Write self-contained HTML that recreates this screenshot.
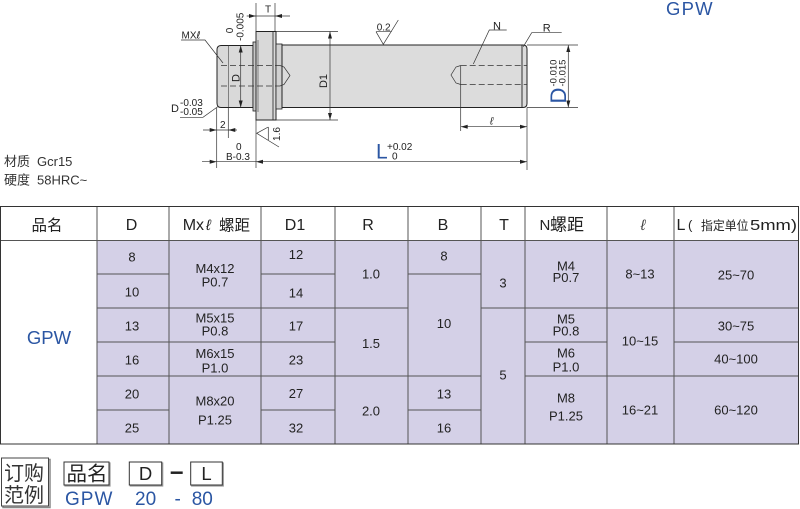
<!DOCTYPE html>
<html><head><meta charset="utf-8">
<style>
html,body{margin:0;padding:0;background:#fff;}
svg{display:block;}
text{font-family:"Liberation Sans","Noto Sans CJK SC",sans-serif;}
.d{stroke:#333;stroke-width:0.7;fill:none;}
.o{stroke:#222;stroke-width:1;}
.t{fill:#222;}
.b{fill:#2b56a3;}
.g{stroke:#555;stroke-width:1;fill:none;}
</style></head><body>
<svg width="800" height="509" viewBox="0 0 800 509" xmlns="http://www.w3.org/2000/svg">
<!-- title -->
<text x="666" y="15" font-size="18.5" class="b" letter-spacing="1.2">GPW</text>

<!-- ============ DRAWING ============ -->
<!-- pilot -->
<path d="M221,45.5 L253,45.5 L253,107.5 L221,107.5 Q217,107.5 217,103 L217,50 Q217,45.5 221,45.5 Z" fill="#d9d9d9" class="o"/>
<line x1="228.3" y1="45.5" x2="228.3" y2="107.5" stroke="#444" stroke-width="0.6"/>
<!-- undercut -->
<rect x="253" y="42" width="3" height="69" fill="#c8c8c8" stroke="#222" stroke-width="0.8"/>
<!-- flange -->
<rect x="256" y="31.5" width="20" height="88.5" fill="#d9d9d9" class="o"/>
<line x1="273" y1="31.5" x2="273" y2="120" stroke="#222" stroke-width="0.8"/>
<line x1="258" y1="40" x2="258" y2="112" stroke="#444" stroke-width="0.6"/>
<!-- relief -->
<rect x="276" y="44" width="6" height="65" fill="#d0d0d0" stroke="#222" stroke-width="0.8"/>
<!-- main body -->
<path d="M282,45 L523,45 Q527,45 527,49 L527,103.5 Q527,107.5 523,107.5 L282,107.5 Z" fill="#dcdcdc" class="o"/>
<line x1="522" y1="45" x2="522" y2="107.5" stroke="#222" stroke-width="0.9"/>

<!-- hidden thread left -->
<line x1="221" y1="65.5" x2="280" y2="65.5" stroke="#333" stroke-width="0.8" stroke-dasharray="6,3"/>
<line x1="221" y1="86" x2="280" y2="86" stroke="#333" stroke-width="0.8" stroke-dasharray="6,3"/>
<path d="M280,65.5 L284,67 L290,75.5 L284,84.5 L280,86" class="d"/>
<!-- hidden thread right -->
<line x1="460.7" y1="65.5" x2="527" y2="65.5" stroke="#333" stroke-width="0.8" stroke-dasharray="6,3"/>
<line x1="460.7" y1="84.5" x2="527" y2="84.5" stroke="#333" stroke-width="0.8" stroke-dasharray="6,3"/>
<path d="M460.7,65.5 L456,67 L451,75 L456,83 L460.7,84.5" class="d"/>
<line x1="460.7" y1="65.5" x2="460.7" y2="131" class="d"/>

<!-- T dimension -->
<line x1="256" y1="3" x2="256" y2="168" class="d"/>
<line x1="275" y1="3" x2="275" y2="31.5" class="d"/>
<line x1="246.7" y1="16" x2="290" y2="16" class="d"/>
<polygon points="256,16 249,14 249,18" fill="#222"/>
<polygon points="275,16 282,14 282,18" fill="#222"/>
<text x="265" y="12.5" font-size="10" class="t">T</text>

<!-- pilot tolerance -->
<text transform="translate(233,30.5) rotate(-90)" text-anchor="middle" font-size="10" class="t">0</text>
<text transform="translate(243.5,41) rotate(-90)" font-size="10" class="t">-0.005</text>
<!-- pilot D dim -->
<line x1="240.7" y1="45.5" x2="240.7" y2="107.5" class="d"/>
<polygon points="240.7,45.5 238.7,52.5 242.7,52.5" fill="#222"/>
<polygon points="240.7,107.5 238.7,100.5 242.7,100.5" fill="#222"/>
<text transform="translate(239.5,78) rotate(-90)" text-anchor="middle" font-size="11" class="t">D</text>

<!-- D1 dim -->
<line x1="276" y1="31.5" x2="338" y2="31.5" class="d"/>
<line x1="276" y1="120" x2="338" y2="120" class="d"/>
<line x1="330" y1="31.5" x2="330" y2="120" class="d"/>
<polygon points="330,31.5 328,38.5 332,38.5" fill="#222"/>
<polygon points="330,120 328,113 332,113" fill="#222"/>
<text transform="translate(327,81) rotate(-90)" text-anchor="middle" font-size="11" class="t">D1</text>

<!-- MXl leader -->
<text x="181.5" y="38.5" font-size="10" class="t">MX<tspan font-family="DejaVu Sans" font-style="italic">ℓ</tspan></text>
<path d="M181,40 L205,40 L223,63" class="d"/>
<!-- D -0.03 leader -->
<text x="171" y="112" font-size="11" class="t">D</text>
<text x="180" y="106" font-size="10" class="t">-0.03</text>
<text x="180" y="115" font-size="10" class="t">-0.05</text>
<path d="M180,117.3 L203,117.3 L218,106.5" class="d"/>

<!-- 2 dim -->
<line x1="216.7" y1="108" x2="216.7" y2="168" class="d"/>
<line x1="228.3" y1="108" x2="228.3" y2="138" class="d"/>
<line x1="203" y1="130" x2="237" y2="130" class="d"/>
<polygon points="216.7,130 209.7,128 209.7,132" fill="#222"/>
<polygon points="228.3,130 235.3,128 235.3,132" fill="#222"/>
<text x="220" y="128" font-size="10" class="t">2</text>

<!-- 1.6 symbol -->
<path d="M268.3,127 L256.7,133.3 L279,147 M268.3,127 L268.3,140" class="d"/>
<text transform="translate(280,134) rotate(-90)" text-anchor="middle" font-size="10" class="t">1.6</text>

<!-- B / L dims -->
<line x1="202" y1="161.7" x2="527" y2="161.7" class="d"/>
<polygon points="216.7,161.7 209.7,159.7 209.7,163.7" fill="#222"/>
<polygon points="256,161.7 263,159.7 263,163.7" fill="#222"/>
<polygon points="527,161.7 520,159.7 520,163.7" fill="#222"/>
<text x="236" y="150" font-size="10" class="t">0</text>
<text x="226" y="160" font-size="10" class="t">B-0.3</text>
<text x="376" y="158.5" font-size="21" class="b">L</text>
<text x="387" y="150" font-size="10" class="t">+0.02</text>
<text x="392" y="159.5" font-size="10" class="t">0</text>
<line x1="527" y1="107.5" x2="527" y2="170" class="d"/>

<!-- 0.2 symbol -->
<text x="376.7" y="30.5" font-size="10" class="t">0.2</text>
<path d="M376,31.7 L391.7,31.7 M376,31.7 L383.3,44.3 L398.3,20" class="d"/>

<!-- N leader -->
<path d="M473.3,64 L489.3,30 L506.7,30" class="d"/>
<text x="493" y="29.5" font-size="11" class="t">N</text>
<!-- R leader -->
<path d="M523.3,46.7 L531.7,32.7 L561.7,32.7" class="d"/>
<text x="542.7" y="31.5" font-size="11" class="t">R</text>

<!-- l dim -->
<line x1="460.7" y1="126.7" x2="527" y2="126.7" class="d"/>
<polygon points="460.7,126.7 467.7,124.7 467.7,128.7" fill="#222"/>
<polygon points="527,126.7 520,124.7 520,128.7" fill="#222"/>
<text x="491.7" y="124.5" text-anchor="middle" font-size="11" font-style="italic" font-family="DejaVu Sans" fill="#333">ℓ</text>

<!-- right D dim -->
<line x1="527" y1="45" x2="578" y2="45" class="d"/>
<line x1="527" y1="107.5" x2="578" y2="107.5" class="d"/>
<line x1="568.3" y1="45" x2="568.3" y2="107.5" class="d"/>
<polygon points="568.3,45 566.3,52 570.3,52" fill="#222"/>
<polygon points="568.3,107.5 566.3,100.5 570.3,100.5" fill="#222"/>
<text transform="translate(566,103.5) rotate(-90)" font-size="22" class="b">D</text>
<text transform="translate(556.5,86.5) rotate(-90)" font-size="9.5" class="t">-0.010</text>
<text transform="translate(565.5,86.5) rotate(-90)" font-size="9.5" class="t">-0.015</text>

<!-- material -->
<text x="4" y="166" font-size="13" fill="#333">材质</text>
<text x="37" y="166" font-size="13" fill="#333">Gcr15</text>
<text x="4" y="184.5" font-size="13" fill="#333">硬度</text>
<text x="37" y="184.5" font-size="13" fill="#333">58HRC~</text>

<!-- ============ TABLE ============ -->
<rect x="97" y="240.5" width="702" height="203.5" fill="#d4d0e7"/>
<g class="g">
<line x1="0" y1="240.5" x2="799" y2="240.5"/>
<line x1="97" y1="274" x2="169" y2="274"/><line x1="97" y1="308" x2="169" y2="308"/><line x1="97" y1="342" x2="169" y2="342"/><line x1="97" y1="376" x2="169" y2="376"/><line x1="97" y1="410" x2="169" y2="410"/>
<line x1="169" y1="308" x2="261" y2="308"/><line x1="169" y1="342" x2="261" y2="342"/><line x1="169" y1="376" x2="261" y2="376"/>
<line x1="261" y1="274" x2="335" y2="274"/><line x1="261" y1="308" x2="335" y2="308"/><line x1="261" y1="342" x2="335" y2="342"/><line x1="261" y1="376" x2="335" y2="376"/><line x1="261" y1="410" x2="335" y2="410"/>
<line x1="335" y1="308" x2="408" y2="308"/><line x1="335" y1="376" x2="408" y2="376"/>
<line x1="408" y1="274" x2="481" y2="274"/><line x1="408" y1="376" x2="481" y2="376"/><line x1="408" y1="410" x2="481" y2="410"/>
<line x1="481" y1="308" x2="525" y2="308"/>
<line x1="525" y1="308" x2="607" y2="308"/><line x1="525" y1="342" x2="607" y2="342"/><line x1="525" y1="376" x2="607" y2="376"/>
<line x1="607" y1="308" x2="674" y2="308"/><line x1="607" y1="376" x2="674" y2="376"/>
<line x1="674" y1="308" x2="799" y2="308"/><line x1="674" y1="342" x2="799" y2="342"/><line x1="674" y1="376" x2="799" y2="376"/>
<line x1="97" y1="206" x2="97" y2="444"/><line x1="169" y1="206" x2="169" y2="444"/><line x1="261" y1="206" x2="261" y2="444"/><line x1="335" y1="206" x2="335" y2="444"/><line x1="408" y1="206" x2="408" y2="444"/><line x1="481" y1="206" x2="481" y2="444"/><line x1="525" y1="206" x2="525" y2="444"/><line x1="607" y1="206" x2="607" y2="444"/><line x1="674" y1="206" x2="674" y2="444"/>
</g>
<rect x="0.5" y="206.5" width="798" height="237.5" fill="none" stroke="#333" stroke-width="1"/>

<!-- header text -->
<g class="t" font-size="16">
<text x="47" y="230.5" text-anchor="middle" font-size="15.5">品名</text>
<text x="131.5" y="230" text-anchor="middle">D</text>
<text x="182.7" y="230">Mx</text>
<text x="206" y="230" font-family="DejaVu Sans" font-style="italic" font-size="15">ℓ</text>
<text x="219" y="230.5" font-size="15.5">螺距</text>
<text x="295" y="230" text-anchor="middle">D1</text>
<text x="368" y="230" text-anchor="middle">R</text>
<text x="443" y="230" text-anchor="middle">B</text>
<text x="504" y="230" text-anchor="middle">T</text>
<text x="539.5" y="230" font-size="15">N</text>
<text x="550" y="230.5" font-size="17">螺距</text>
<text x="643" y="230" text-anchor="middle" font-family="DejaVu Sans" font-style="italic" font-size="15" fill="#444">ℓ</text>
<text x="676.5" y="230">L</text>
<text x="688" y="229.5" font-size="13">(</text>
<text x="701" y="230" font-size="12.5" textLength="47.5" lengthAdjust="spacingAndGlyphs">指定单位</text>
<text x="750" y="230" font-size="15" textLength="47" lengthAdjust="spacingAndGlyphs">5mm)</text>
</g>

<text x="49" y="344" text-anchor="middle" font-size="18.5" class="b">GPW</text>

<!-- body text -->
<g class="t" font-size="13" text-anchor="middle">
<text x="132" y="261.7">8</text><text x="132" y="296.4">10</text><text x="132" y="330.7">13</text><text x="132" y="364.7">16</text><text x="132" y="398.7">20</text><text x="132" y="432.4">25</text>
<text x="215" y="273">M4x12</text><text x="215" y="286.4">P0.7</text>
<text x="215" y="322.7">M5x15</text><text x="215" y="335.7">P0.8</text>
<text x="215" y="358">M6x15</text><text x="215" y="372.4">P1.0</text>
<text x="215" y="405.7">M8x20</text><text x="215" y="424.7">P1.25</text>
<text x="296" y="259">12</text><text x="296" y="297.4">14</text><text x="296" y="330.7">17</text><text x="296" y="364.7">23</text><text x="296" y="398">27</text><text x="296" y="432.4">32</text>
<text x="371" y="278.7">1.0</text><text x="371" y="348">1.5</text><text x="371" y="415.4">2.0</text>
<text x="444" y="260.7">8</text><text x="444" y="328">10</text><text x="444" y="398.7">13</text><text x="444" y="432.7">16</text>
<text x="503" y="287.4">3</text><text x="503" y="379.7">5</text>
<text x="566" y="270.7">M4</text><text x="566" y="282">P0.7</text>
<text x="566" y="323.7">M5</text><text x="566" y="335.7">P0.8</text>
<text x="566" y="357.7">M6</text><text x="566" y="371.7">P1.0</text>
<text x="566" y="402.7">M8</text><text x="566" y="420.7">P1.25</text>
<text x="640" y="278.7">8~13</text><text x="640" y="345.7">10~15</text><text x="640" y="414.7">16~21</text>
<text x="736" y="279.7">25~70</text><text x="736" y="330.7">30~75</text><text x="736" y="363.7">40~100</text><text x="736" y="414.7">60~120</text>
</g>

<!-- ============ ORDER EXAMPLE ============ -->
<rect x="3" y="459.5" width="47" height="48" fill="none" stroke="#888" stroke-width="1.5"/>
<rect x="1.5" y="458" width="47" height="48" fill="#fff" stroke="#444" stroke-width="1"/>
<text x="4" y="480" font-size="20" fill="#333">订购</text>
<text x="4" y="502" font-size="20" fill="#333">范例</text>

<rect x="65" y="463" width="45" height="23" fill="none" stroke="#999" stroke-width="1.2"/>
<rect x="64" y="462" width="45" height="23" fill="#fff" stroke="#333" stroke-width="1"/>
<text x="66.5" y="480.5" font-size="20" fill="#222" textLength="41" lengthAdjust="spacingAndGlyphs">品名</text>

<rect x="130.3" y="463" width="32.4" height="23" fill="none" stroke="#999" stroke-width="1.2"/>
<rect x="129.3" y="462" width="32.4" height="23" fill="#fff" stroke="#333" stroke-width="1"/>
<text x="145.5" y="480" text-anchor="middle" font-size="18.5" fill="#222">D</text>

<line x1="170.7" y1="472.7" x2="182.7" y2="472.7" stroke="#222" stroke-width="2.5"/>

<rect x="191.7" y="463" width="31.6" height="23" fill="none" stroke="#999" stroke-width="1.2"/>
<rect x="190.7" y="462" width="31.6" height="23" fill="#fff" stroke="#333" stroke-width="1"/>
<text x="206.5" y="480" text-anchor="middle" font-size="18.5" fill="#222">L</text>

<text x="65" y="505" font-size="19" class="b" letter-spacing="1">GPW</text>
<text x="135" y="505" font-size="19" class="b">20</text>
<text x="174.5" y="505" font-size="19" class="b">-</text>
<text x="191.7" y="505" font-size="19" class="b">80</text>
</svg>
</body></html>
